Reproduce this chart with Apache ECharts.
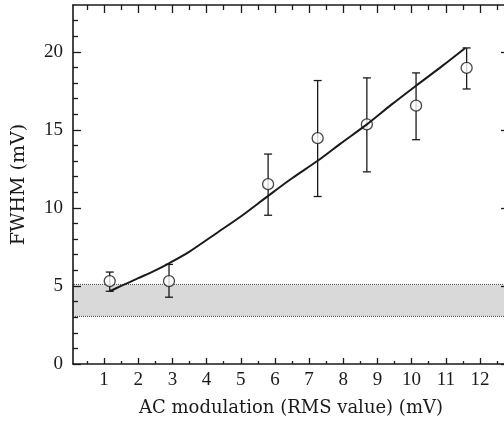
<!DOCTYPE html>
<html><head><meta charset="utf-8">
<script src="https://cdn.jsdelivr.net/npm/echarts@6/dist/echarts.min.js"></script>
<style>html,body{margin:0;padding:0;overflow:hidden;background:#fff}#c{width:530px;height:428px}</style>
</head><body><div id="c"></div>
<script>
const xMajorTicks = [1,2,3,4,5,6,7,8,9,10,11,12];
const xMinorTicks = [0.5,1.5,2.5,3.5,4.5,5.5,6.5,7.5,8.5,9.5,10.5,11.5,12.5];
const yMajorTicks = [0,5,10,15,20];
const yMinorTicks = [1,2,3,4,6,7,8,9,11,12,13,14,16,17,18,19,21,22];
const pointX = [1.165, 2.9, 5.8, 7.25, 8.69, 10.13, 11.61];
const pointY = [5.31, 5.31, 11.52, 14.47, 15.35, 16.55, 18.97];
const errLow = [4.66, 4.28, 9.53, 10.73, 12.31, 14.37, 17.62];
const errHigh = [5.89, 6.38, 13.45, 18.16, 18.33, 18.65, 20.25];
const fitX = [1.165, 1.5, 2, 2.5, 2.9, 3.5, 4.38, 5, 5.8, 6.5, 7.25, 7.9, 8.69, 9.4, 10.13, 10.9, 11.57];
const fitY = [4.66, 5.0, 5.5, 6.0, 6.45, 7.2, 8.52, 9.45, 10.77, 11.9, 13.02, 14.09, 15.35, 16.6, 17.83, 19.1, 20.25];
const bandRange = [3.05, 5.1];
const xTitle = 'AC modulation (RMS value) (mV)';
const yTitle = 'FWHM (mV)';

const XMIN = 0.09, XMAX = 12.85, YMIN = 0, YMAX = 23;
const INK = '#1a1a1a';
const lbl = {fontFamily: 'Liberation Serif', fontSize: 19, color: INK};

function xAx(pos, major, showLine, showLabel) {
  return {
    type: 'value', position: pos, min: XMIN, max: XMAX, z: 10,
    axisLine: {show: showLine, onZero: false, lineStyle: {color: INK, width: 1.6}},
    axisTick: {show: true, inside: true, length: major ? (pos === 'top' ? 8 : 6) : (pos === 'top' ? 5 : 3),
      customValues: major ? xMajorTicks : xMinorTicks, lineStyle: {color: INK, width: 1.3}},
    axisLabel: showLabel ? Object.assign({show: true, margin: 7, customValues: xMajorTicks}, lbl) : {show: false},
    splitLine: {show: false}
  };
}
function yAx(pos, major, showLine, showLabel) {
  return {
    type: 'value', position: pos, min: YMIN, max: YMAX, z: 10,
    axisLine: {show: showLine, onZero: false, lineStyle: {color: INK, width: 1.6}},
    axisTick: {show: true, inside: true, length: major ? 8 : 5,
      customValues: major ? yMajorTicks : yMinorTicks, lineStyle: {color: INK, width: 1.3}},
    axisLabel: showLabel ? Object.assign({show: true, margin: 10, customValues: yMajorTicks}, lbl) : {show: false},
    splitLine: {show: false}
  };
}

const xAxes = [xAx('bottom', true, true, true), xAx('bottom', false, false, false),
               xAx('top', true, true, false), xAx('top', false, false, false)];
Object.assign(xAxes[0], {name: xTitle, nameLocation: 'middle', nameGap: 35,
  nameTextStyle: {fontFamily: 'DejaVu Serif', fontSize: 18, color: INK}});
const yAxes = [yAx('left', true, true, true), yAx('left', false, false, false),
               yAx('right', true, true, false), yAx('right', false, false, false)];
Object.assign(yAxes[0], {name: yTitle, nameLocation: 'middle', nameGap: 44,
  nameTextStyle: {fontFamily: 'DejaVu Serif', fontSize: 19, color: INK}});

const chart = echarts.init(document.getElementById('c'), null, {renderer: 'canvas'});
chart.setOption({
  animation: false,
  backgroundColor: '#fff',
  grid: {left: 73, top: 5, right: 21, bottom: 64, containLabel: false},
  xAxis: xAxes,
  yAxis: yAxes,
  series: [
    {
      type: 'line', data: [], z: 1, silent: true,
      markArea: {silent: true,
        itemStyle: {color: '#d9d9d9', borderColor: '#444', borderWidth: 1, borderType: 'dotted'},
        data: [[{yAxis: bandRange[0]}, {yAxis: bandRange[1]}]]}
    },
    {
      type: 'custom', z: 3, silent: true,
      data: pointX.map((x, i) => [x, errLow[i], errHigh[i]]),
      encode: {x: 0, y: [1, 2]},
      renderItem: function (params, api) {
        const x = api.value(0);
        const lo = api.coord([x, api.value(1)]);
        const hi = api.coord([x, api.value(2)]);
        const w = 4;
        const st = {stroke: INK, lineWidth: 1.3};
        return {type: 'group', children: [
          {type: 'line', shape: {x1: lo[0], y1: lo[1], x2: hi[0], y2: hi[1]}, style: st},
          {type: 'line', shape: {x1: lo[0] - w, y1: lo[1], x2: lo[0] + w, y2: lo[1]}, style: st},
          {type: 'line', shape: {x1: hi[0] - w, y1: hi[1], x2: hi[0] + w, y2: hi[1]}, style: st}
        ]};
      }
    },
    {
      type: 'scatter', z: 4, symbol: 'circle', symbolSize: 11,
      data: pointX.map((x, i) => [x, pointY[i]]),
      itemStyle: {color: '#fff', borderColor: INK, borderWidth: 1.3}
    },
    {
      type: 'line', z: 5, smooth: 0.3, showSymbol: false,
      data: fitX.map((x, i) => [x, fitY[i]]),
      lineStyle: {color: INK, width: 2}
    }
  ]
});
</script></body></html>
